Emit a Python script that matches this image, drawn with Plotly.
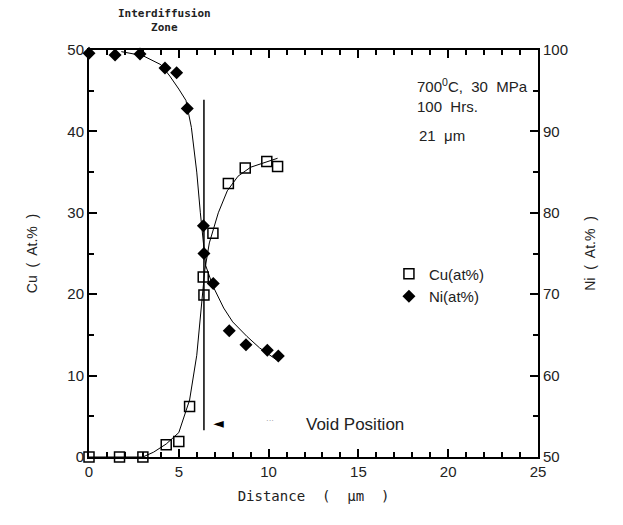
import plotly.graph_objects as go

# Measured data
cu_x = [0, 1.7, 3.0, 4.3, 5.0, 5.6, 6.36, 6.4, 6.9, 7.76, 8.7, 9.9, 10.5]
cu_y = [0, 0, 0, 1.5, 1.9, 6.2, 22.1, 19.9, 27.5, 33.6, 35.5, 36.3, 35.7]

ni_x = [0, 1.45, 2.84, 4.23, 4.88, 5.47, 6.37, 6.4, 6.92, 7.81, 8.74, 9.93, 10.54]
ni_y = [99.6, 99.4, 99.5, 97.8, 97.2, 92.8, 78.4, 75.0, 71.3, 65.5, 63.8, 63.1, 62.4]

# Hand-drawn fit curves
cu_fit_x = [0, 3.0, 3.6, 4.3, 5.0, 5.6, 6.0, 6.2, 6.3, 6.45, 6.7, 7.2, 7.7, 8.3, 9.0, 9.8, 10.5]
cu_fit_y = [0, 0, 0.6, 1.6, 3.0, 7.0, 12.5, 17.0, 20.0, 23.0, 26.3, 30.0, 32.7, 34.5, 35.6, 36.2, 36.7]

ni_fit_x = [1.8, 3.0, 4.0, 4.5, 5.0, 5.4, 5.7, 6.0, 6.2, 6.35, 6.5, 6.9, 7.5, 8.0, 8.8, 9.5, 10.4]
ni_fit_y = [99.8, 99.3, 98.2, 96.8, 95.2, 93.8, 90.5, 85.0, 80.0, 76.5, 73.5, 71.0, 68.3, 66.6, 64.8, 63.4, 62.0]

void_x = [6.4, 6.4]
void_y = [3.3, 43.9]

x_ticks = [0, 5, 10, 15, 20, 25]
cu_ticks = [0, 10, 20, 30, 40, 50]
ni_ticks = [50, 60, 70, 80, 90, 100]

font_main = "Liberation Sans, Arial, sans-serif"

fig = go.Figure()

fig.add_trace(go.Scatter(x=cu_fit_x, y=cu_fit_y, mode="lines",
                         line=dict(color="black", width=1), showlegend=False, hoverinfo="skip"))
fig.add_trace(go.Scatter(x=ni_fit_x, y=ni_fit_y, mode="lines", yaxis="y2",
                         line=dict(color="black", width=1), showlegend=False, hoverinfo="skip"))
fig.add_trace(go.Scatter(x=void_x, y=void_y, mode="lines",
                         line=dict(color="black", width=1.5), showlegend=False, hoverinfo="skip"))

fig.add_trace(go.Scatter(x=cu_x, y=cu_y, mode="markers", name="Cu(at%)",
                         marker=dict(symbol="square-open", size=10, color="black",
                                     line=dict(width=1.5, color="black")),
                         cliponaxis=False))
fig.add_trace(go.Scatter(x=ni_x, y=ni_y, mode="markers", name="Ni(at%)", yaxis="y2",
                         marker=dict(symbol="diamond", size=10, color="black"),
                         cliponaxis=False))

axis_common = dict(showgrid=False, zeroline=False, linecolor="black", linewidth=2,
                   ticks="inside", tickcolor="black", tickwidth=1.5,
                   tickfont=dict(family=font_main, size=15, color="#222"))

fig.update_layout(
    width=623, height=525,
    margin=dict(l=89, r=85, t=50, b=68),
    paper_bgcolor="white", plot_bgcolor="white",
    xaxis=dict(range=[0, 25], tickvals=x_ticks, ticklen=8, mirror="ticks",
               minor=dict(dtick=1, ticks="inside", ticklen=5, tickcolor="black"),
               title=dict(text="Distance  (  \u03bcm  )", standoff=12,
                          font=dict(family="DejaVu Sans Mono, monospace", size=14, color="#222")),
               **axis_common),
    yaxis=dict(range=[0, 50], tickvals=cu_ticks, ticklen=8,
               minor=dict(dtick=5, ticks="inside", ticklen=5, tickcolor="black"),
               title=dict(text="Cu  (  At.%  )", standoff=26,
                          font=dict(family=font_main, size=14, color="#222")),
               **axis_common),
    yaxis2=dict(range=[50, 100], tickvals=ni_ticks, ticklen=8, overlaying="y", side="right",
                minor=dict(dtick=5, ticks="inside", ticklen=5, tickcolor="black"),
                title=dict(text="Ni  (  At.%  )", standoff=18,
                           font=dict(family=font_main, size=14, color="#222")),
                **axis_common),
    legend=dict(x=0.668, y=0.49, xanchor="left", yanchor="top", bgcolor="rgba(0,0,0,0)",
                font=dict(family=font_main, size=15, color="#222"), itemwidth=30,
                tracegroupgap=6),
    showlegend=True,
)

ann_font = dict(family=font_main, size=15, color="#222")
fig.add_annotation(x=0.726, y=0.914, xref="paper", yref="paper", xanchor="left", yanchor="middle",
                   text="700<sup>0</sup>C,  30  MPa", showarrow=False, font=ann_font)
fig.add_annotation(x=0.726, y=0.86, xref="paper", yref="paper", xanchor="left", yanchor="middle",
                   text="100  Hrs.", showarrow=False, font=ann_font)
fig.add_annotation(x=0.73, y=0.79, xref="paper", yref="paper", xanchor="left", yanchor="middle",
                   text="21  \u03bcm", showarrow=False, font=ann_font)
fig.add_annotation(x=0.478, y=0.081, xref="paper", yref="paper", xanchor="left", yanchor="middle",
                   text="Void Position", showarrow=False,
                   font=dict(family=font_main, size=17, color="#222"))
fig.add_annotation(x=7.2, y=4.2, xref="x", yref="y", text="\u25c4", showarrow=False,
                   font=dict(family="DejaVu Sans", size=14, color="black"))
fig.add_annotation(x=10.1, y=4.5, xref="x", yref="y", text="\u00b7\u00b7\u00b7", showarrow=False,
                   font=dict(family=font_main, size=8, color="#888"))
fig.add_annotation(x=0.169, y=1.0, xref="paper", yref="paper", xanchor="center",
                   yanchor="bottom", yshift=14,
                   text="<b>Interdiffusion</b><br><b>Zone</b>", showarrow=False,
                   font=dict(family="DejaVu Sans Mono, monospace", size=11, color="#222"))

fig.write_html("out.html")
